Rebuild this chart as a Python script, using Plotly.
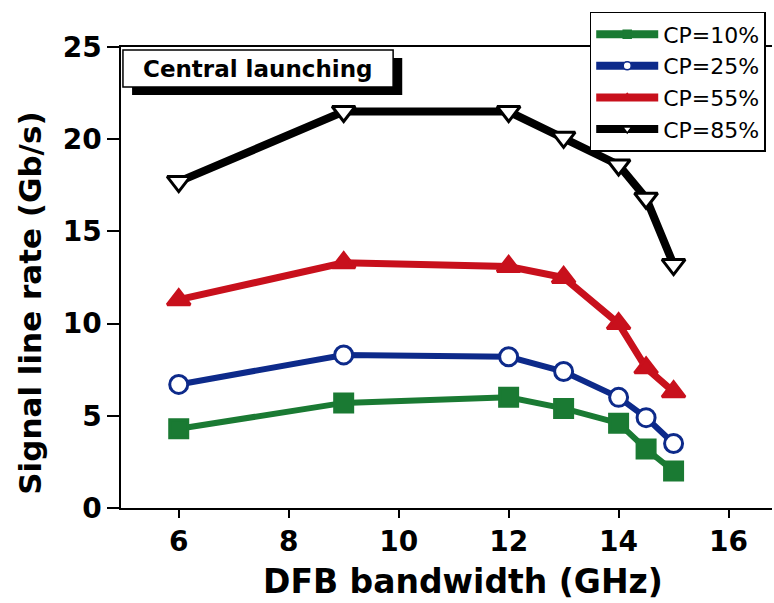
import plotly.graph_objects as go

bandwidth = [6, 9, 12, 13, 14, 14.5, 15]
cp10 = [4.3, 5.7, 6.0, 5.4, 4.6, 3.2, 2.0]
cp25 = [6.7, 8.3, 8.2, 7.4, 6.0, 4.9, 3.5]
cp55 = [11.3, 13.3, 13.1, 12.5, 10.0, 7.6, 6.3]
cp85 = [17.7, 21.5, 21.5, 20.1, 18.6, 16.8, 13.2]
names = ["CP=10%", "CP=25%", "CP=55%", "CP=85%"]
x_ticks = [6, 8, 10, 12, 14, 16]
y_ticks = [0, 5, 10, 15, 20, 25]

series = [
    (cp10, "#1a7a33", "square", "#1a7a33", 6, 18),
    (cp25, "#0d2a8a", "circle", "white", 6, 18),
    (cp55, "#c8101c", "triangle-up", "#c8101c", 7, 20),
    (cp85, "#000000", "triangle-down", "white", 8, 20),
]

fig = go.Figure()
for (vals, col, sym, fill, lw, ms), nm in zip(series, names):
    fig.add_trace(go.Scatter(
        x=bandwidth, y=vals, mode="lines+markers", name=nm, showlegend=False,
        line=dict(color=col, width=lw),
        marker=dict(symbol=sym, size=ms, color=fill, line=dict(color=col, width=3)),
    ))
    fig.add_trace(go.Scatter(
        x=[None], y=[None], mode="lines+markers", name=nm,
        line=dict(color=col, width=8),
        marker=dict(symbol=sym, size=8, color=fill, line=dict(color=col, width=1.5)),
    ))

bold = "DejaVu Sans, sans-serif"
fig.update_layout(
    width=774, height=603,
    margin=dict(l=121, r=2, t=47, b=95, autoexpand=False),
    paper_bgcolor="white", plot_bgcolor="white",
    font=dict(family=bold, color="black"),
    xaxis=dict(range=[4.95, 16.79], tickvals=x_ticks, showline=True, linecolor="black", linewidth=1.5,
               mirror=True, ticks="outside", ticklen=8, tickcolor="black", tickwidth=1.5,
               showgrid=False, zeroline=False, automargin=False,
               tickfont=dict(size=28, family=bold, weight="bold")),
    yaxis=dict(range=[0, 25], tickvals=y_ticks, showline=True, linecolor="black", linewidth=1.5,
               ticks="outside", ticklen=12, tickcolor="black", tickwidth=1.5,
               showgrid=False, zeroline=False, automargin=False,
               tickfont=dict(size=28, family=bold, weight="bold")),
    legend=dict(x=0.72, y=1.076, xanchor="left", yanchor="top", bgcolor="white",
                bordercolor="black", borderwidth=1.5,
                font=dict(size=22, family="DejaVu Sans, sans-serif"),
                tracegroupgap=0, itemwidth=62),
    shapes=[
        dict(type="rect", xref="paper", yref="paper", x0=0.017, x1=0.432, y0=0.896, y1=0.976,
             fillcolor="black", line=dict(width=0), layer="above"),
        dict(type="rect", xref="paper", yref="paper", x0=0.003, x1=0.418, y0=0.913, y1=0.9935,
             fillcolor="white", line=dict(color="black", width=1.5), layer="above"),
    ],
    annotations=[
        dict(text="Central launching", xref="paper", yref="paper", x=0.21, y=0.953,
             showarrow=False, font=dict(size=23, family=bold, weight="bold"), xanchor="center", yanchor="middle"),
        dict(text="DFB bandwidth (GHz)", xref="paper", yref="paper", x=0.525, y=-0.16,
             showarrow=False, font=dict(size=33, family=bold, weight="bold"), xanchor="center", yanchor="middle"),
        dict(text="Signal line rate (Gb/s)", xref="paper", yref="paper", x=-0.14, y=0.445, textangle=-90,
             showarrow=False, font=dict(size=31, family=bold, weight="bold"), xanchor="center", yanchor="middle"),
    ],
)

fig.write_html("out.html", config={"displayModeBar": False},
               post_script="document.body.style.margin='0';document.body.style.padding='0';")
